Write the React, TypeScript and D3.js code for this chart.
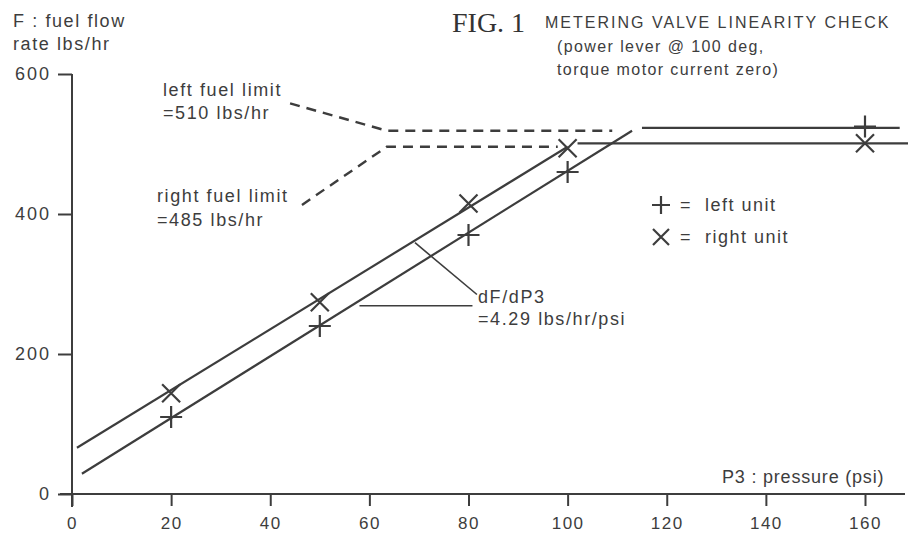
import React, { useEffect, useRef } from 'react';
import * as d3 from 'd3';

// pressure readings (psi) where both units were checked
const pressures = [20, 50, 80, 100, 160];
// fuel flow readings, lbs/hr
const leftUnit = [110, 240, 370, 460, 525];
const rightUnit = [144, 274, 415, 494, 501];

// fitted lines drawn through the readings: [psi, lbs/hr]
const leftRise: [number, number][] = [[2, 29], [113, 519]];
const leftLimit: [number, number][] = [[115, 523], [167, 523]];
const rightRise: [number, number][] = [[1, 66], [100, 496]];
const rightLimit: [number, number][] = [[102, 501], [169, 501]];

// dashed leaders to the limit labels
const leftLimitLeader: [number, number][] = [[44, 558], [63.5, 519], [109, 519]];
const rightLimitLeader: [number, number][] = [[46.4, 413], [63.5, 496], [98, 496]];
// slope annotation leaders
const slopeLeader: [number, number][] = [[69.2, 359], [81.7, 285]];
const slopeBase: [number, number][] = [[58, 269], [80.8, 269]];

const xTicks = [0, 20, 40, 60, 80, 100, 120, 140, 160];
const yTicks = [0, 200, 400, 600];

const W = 908;
const H = 536;
const INK = '#3d3d3d';
const FONT = '"Liberation Sans", Arial, sans-serif';

const App: React.FC = () => {
  const ref = useRef<SVGSVGElement | null>(null);

  useEffect(() => {
    if (!ref.current) return;
    const svg = d3.select(ref.current);
    svg.selectAll('*').remove();

    const x = d3.scaleLinear().domain([0, 160]).range([72, 865]);
    const y = d3.scaleLinear().domain([0, 600]).range([494, 74]);

    const line = d3.line<[number, number]>()
      .x(d => x(d[0]))
      .y(d => y(d[1]));

    // axes
    svg.append('line')
      .attr('x1', 60).attr('x2', 905)
      .attr('y1', y(0)).attr('y2', y(0))
      .attr('stroke', INK).attr('stroke-width', 2);
    svg.append('line')
      .attr('x1', x(0)).attr('x2', x(0))
      .attr('y1', y(600)).attr('y2', y(0) + 13)
      .attr('stroke', INK).attr('stroke-width', 2);

    const xAxis = svg.append('g')
      .attr('transform', `translate(0,${y(0)})`)
      .call(d3.axisBottom(x).tickValues(xTicks).tickSize(12).tickPadding(11).tickFormat(d3.format('d')));
    xAxis.select('.domain').remove();
    xAxis.selectAll('line').attr('stroke', INK).attr('stroke-width', 2);
    xAxis.selectAll('text')
      .attr('fill', INK)
      .style('font-family', FONT)
      .style('font-size', '17px')
      .style('letter-spacing', '1.5px');

    const yAxis = svg.append('g')
      .attr('transform', `translate(${x(0)},0)`)
      .call(d3.axisLeft(y).tickValues(yTicks).tickSize(14).tickPadding(7).tickFormat(d3.format('d')));
    yAxis.select('.domain').remove();
    yAxis.selectAll('line').attr('stroke', INK).attr('stroke-width', 2);
    yAxis.selectAll('text')
      .attr('fill', INK)
      .style('font-family', FONT)
      .style('font-size', '18px')
      .style('letter-spacing', '2px');

    // fitted lines
    [leftRise, leftLimit, rightRise, rightLimit, slopeLeader, slopeBase].forEach(seg => {
      svg.append('path')
        .attr('d', line(seg))
        .attr('fill', 'none')
        .attr('stroke', INK)
        .attr('stroke-width', seg === slopeLeader || seg === slopeBase ? 1.6 : 2.2);
    });

    [leftLimitLeader, rightLimitLeader].forEach(seg => {
      svg.append('path')
        .attr('d', line(seg))
        .attr('fill', 'none')
        .attr('stroke', INK)
        .attr('stroke-width', 2.4)
        .attr('stroke-dasharray', '10 7');
    });

    // markers
    const plus = (g: d3.Selection<SVGGElement, unknown, null, undefined>, cx: number, cy: number, r: number) => {
      g.append('path')
        .attr('d', `M${cx - r},${cy}H${cx + r}M${cx},${cy - r}V${cy + r}`)
        .attr('stroke', INK).attr('stroke-width', 2.2).attr('fill', 'none');
    };
    const cross = (g: d3.Selection<SVGGElement, unknown, null, undefined>, cx: number, cy: number, r: number) => {
      g.append('path')
        .attr('d', `M${cx - r},${cy - r}L${cx + r},${cy + r}M${cx - r},${cy + r}L${cx + r},${cy - r}`)
        .attr('stroke', INK).attr('stroke-width', 2.2).attr('fill', 'none');
    };
    const marks = svg.append('g');
    pressures.forEach((p, i) => {
      plus(marks, x(p), y(leftUnit[i]), 11);
      cross(marks, x(p), y(rightUnit[i]), 9);
    });

    // legend
    const legend = svg.append('g');
    plus(legend, 661, 205, 9);
    cross(legend, 661, 237, 8);
    const legendText = [
      { t: '=  left unit', y: 211 },
      { t: '=  right unit', y: 243 },
    ];
    legendText.forEach(d => {
      legend.append('text')
        .attr('x', 680).attr('y', d.y)
        .attr('fill', INK)
        .style('font-family', FONT)
        .style('font-size', '18px')
        .style('letter-spacing', '1.5px')
        .style('white-space', 'pre')
        .text(d.t);
    });

    // labels
    const labels = [
      { t: 'F : fuel flow', x: 13, y: 27, ls: 1.6 },
      { t: 'rate lbs/hr', x: 13, y: 50, ls: 1.6 },
      { t: 'left fuel limit', x: 163, y: 96, ls: 1.6 },
      { t: '=510 lbs/hr', x: 163, y: 119, ls: 1.6 },
      { t: 'right fuel limit', x: 157, y: 202, ls: 1.6 },
      { t: '=485 lbs/hr', x: 157, y: 226, ls: 1.6 },
      { t: 'dF/dP3', x: 478, y: 303, ls: 1.6 },
      { t: '=4.29 lbs/hr/psi', x: 478, y: 325, ls: 1.6 },
      { t: 'P3 : pressure (psi)', x: 722, y: 483, ls: 0.8 },
    ];
    labels.forEach(d => {
      svg.append('text')
        .attr('x', d.x).attr('y', d.y)
        .attr('fill', INK)
        .style('font-family', FONT)
        .style('font-size', '18px')
        .style('letter-spacing', `${d.ls}px`)
        .text(d.t);
    });

    svg.append('text')
      .attr('x', 452).attr('y', 32)
      .attr('fill', '#333')
      .style('font-family', '"Liberation Serif", "Times New Roman", serif')
      .style('font-size', '28px')
      .text('FIG. 1');
    svg.append('text')
      .attr('x', 545).attr('y', 28)
      .attr('fill', INK)
      .style('font-family', FONT)
      .style('font-size', '16px')
      .style('letter-spacing', '2px')
      .text('METERING VALVE LINEARITY CHECK');
    [
      { t: '(power lever @ 100 deg,', y: 52 },
      { t: 'torque motor current zero)', y: 75 },
    ].forEach(d => {
      svg.append('text')
        .attr('x', 557).attr('y', d.y)
        .attr('fill', INK)
        .style('font-family', FONT)
        .style('font-size', '16px')
        .style('letter-spacing', '1.4px')
        .text(d.t);
    });
  }, []);

  return (
    <svg
      ref={ref}
      width={W}
      height={H}
      style={{ position: 'absolute', left: 0, top: 0, background: '#fff' }}
    />
  );
};

export default App;
